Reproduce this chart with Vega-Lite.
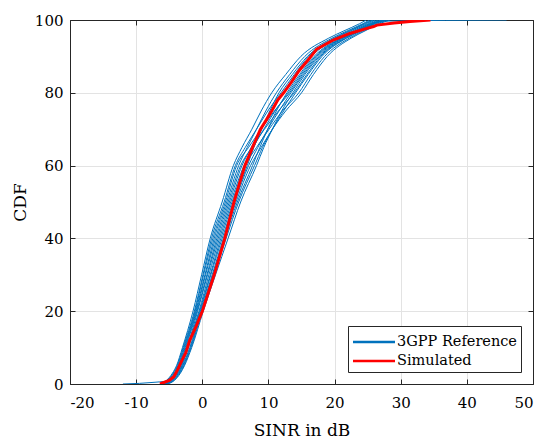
{
"$schema": "https://vega.github.io/schema/vega-lite/v6.json",
"width": 463, "height": 364,
"autosize": {"type": "none"},
"padding": {"left": 70, "top": 20, "right": 7, "bottom": 56},
"background": "white",
"config": {
  "view": {"stroke": "#262626", "strokeWidth": 1},
  "font": "DejaVu Serif",
  "axis": {"labelFont": "DejaVu Serif", "titleFont": "DejaVu Serif", "labelFontSize": 15, "labelColor": "#000", "titleFontSize": 17, "titleFontWeight": "normal", "titleColor": "#000", "domainColor": "#262626", "tickColor": "#262626", "gridColor": "#e3e3e3", "tickSize": -5},
  "legend": {"labelFont": "DejaVu Serif"}
},
"datasets": {
"ref": [
{"c":1,"x":-6.3,"y":0},{"c":1,"x":-5.4,"y":1},{"c":1,"x":-4.5,"y":3},{"c":1,"x":-3.9,"y":5},{"c":1,"x":-3.0,"y":10},{"c":1,"x":-1.4,"y":20},{"c":1,"x":-0.1,"y":30},{"c":1,"x":1.2,"y":40},{"c":1,"x":3.0,"y":50},{"c":1,"x":4.7,"y":60},{"c":1,"x":6.0,"y":65},{"c":1,"x":7.5,"y":70},{"c":1,"x":8.9,"y":75},{"c":1,"x":10.5,"y":80},{"c":1,"x":12.6,"y":85},{"c":1,"x":14.9,"y":90},{"c":1,"x":19.1,"y":95},{"c":1,"x":21.4,"y":97},{"c":1,"x":23.8,"y":99},{"c":1,"x":24.8,"y":100},
{"c":2,"x":-6.2,"y":0},{"c":2,"x":-5.3,"y":1},{"c":2,"x":-4.4,"y":3},{"c":2,"x":-3.8,"y":5},{"c":2,"x":-2.9,"y":10},{"c":2,"x":-1.2,"y":20},{"c":2,"x":0.1,"y":30},{"c":2,"x":1.4,"y":40},{"c":2,"x":3.3,"y":50},{"c":2,"x":5.0,"y":60},{"c":2,"x":6.5,"y":65},{"c":2,"x":8.2,"y":70},{"c":2,"x":9.9,"y":75},{"c":2,"x":11.9,"y":80},{"c":2,"x":13.9,"y":85},{"c":2,"x":16.1,"y":90},{"c":2,"x":20.1,"y":95},{"c":2,"x":22.4,"y":97},{"c":2,"x":24.7,"y":99},{"c":2,"x":25.9,"y":100},
{"c":3,"x":-6.1,"y":0},{"c":3,"x":-5.2,"y":1},{"c":3,"x":-4.3,"y":3},{"c":3,"x":-3.7,"y":5},{"c":3,"x":-2.8,"y":10},{"c":3,"x":-1.1,"y":20},{"c":3,"x":0.2,"y":30},{"c":3,"x":1.6,"y":40},{"c":3,"x":3.5,"y":50},{"c":3,"x":5.2,"y":60},{"c":3,"x":7.0,"y":65},{"c":3,"x":8.9,"y":70},{"c":3,"x":10.9,"y":75},{"c":3,"x":13.2,"y":80},{"c":3,"x":15.1,"y":85},{"c":3,"x":17.3,"y":90},{"c":3,"x":21.1,"y":95},{"c":3,"x":23.3,"y":97},{"c":3,"x":25.6,"y":99},{"c":3,"x":27.0,"y":100},
{"c":4,"x":-6.0,"y":0},{"c":4,"x":-5.1,"y":1},{"c":4,"x":-4.2,"y":3},{"c":4,"x":-3.6,"y":5},{"c":4,"x":-2.7,"y":10},{"c":4,"x":-1.0,"y":20},{"c":4,"x":0.4,"y":30},{"c":4,"x":1.8,"y":40},{"c":4,"x":3.7,"y":50},{"c":4,"x":5.5,"y":60},{"c":4,"x":6.8,"y":65},{"c":4,"x":8.2,"y":70},{"c":4,"x":9.6,"y":75},{"c":4,"x":11.2,"y":80},{"c":4,"x":13.2,"y":85},{"c":4,"x":15.5,"y":90},{"c":4,"x":19.6,"y":95},{"c":4,"x":21.9,"y":97},{"c":4,"x":24.3,"y":99},{"c":4,"x":25.3,"y":100},
{"c":5,"x":-6.0,"y":0},{"c":5,"x":-5.0,"y":1},{"c":5,"x":-4.1,"y":3},{"c":5,"x":-3.5,"y":5},{"c":5,"x":-2.6,"y":10},{"c":5,"x":-0.9,"y":20},{"c":5,"x":0.5,"y":30},{"c":5,"x":2.0,"y":40},{"c":5,"x":3.9,"y":50},{"c":5,"x":5.8,"y":60},{"c":5,"x":7.5,"y":65},{"c":5,"x":9.4,"y":70},{"c":5,"x":11.5,"y":75},{"c":5,"x":13.9,"y":80},{"c":5,"x":15.8,"y":85},{"c":5,"x":17.9,"y":90},{"c":5,"x":21.7,"y":95},{"c":5,"x":23.8,"y":97},{"c":5,"x":26.0,"y":99},{"c":5,"x":27.5,"y":100},
{"c":6,"x":-5.9,"y":0},{"c":6,"x":-4.9,"y":1},{"c":6,"x":-4.0,"y":3},{"c":6,"x":-3.4,"y":5},{"c":6,"x":-2.5,"y":10},{"c":6,"x":-0.8,"y":20},{"c":6,"x":0.7,"y":30},{"c":6,"x":2.2,"y":40},{"c":6,"x":4.1,"y":50},{"c":6,"x":6.0,"y":60},{"c":6,"x":7.4,"y":65},{"c":6,"x":8.9,"y":70},{"c":6,"x":10.5,"y":75},{"c":6,"x":12.3,"y":80},{"c":6,"x":14.3,"y":85},{"c":6,"x":16.5,"y":90},{"c":6,"x":20.5,"y":95},{"c":6,"x":22.7,"y":97},{"c":6,"x":25.0,"y":99},{"c":6,"x":26.2,"y":100},
{"c":7,"x":-5.8,"y":0},{"c":7,"x":-4.8,"y":1},{"c":7,"x":-3.9,"y":3},{"c":7,"x":-3.3,"y":5},{"c":7,"x":-2.3,"y":10},{"c":7,"x":-0.7,"y":20},{"c":7,"x":0.8,"y":30},{"c":7,"x":2.4,"y":40},{"c":7,"x":4.3,"y":50},{"c":7,"x":6.3,"y":60},{"c":7,"x":7.7,"y":65},{"c":7,"x":9.3,"y":70},{"c":7,"x":11.0,"y":75},{"c":7,"x":13.0,"y":80},{"c":7,"x":14.9,"y":85},{"c":7,"x":17.1,"y":90},{"c":7,"x":21.0,"y":95},{"c":7,"x":23.2,"y":97},{"c":7,"x":25.4,"y":99},{"c":7,"x":27.5,"y":99.7},{"c":7,"x":46.0,"y":100},
{"c":8,"x":-5.8,"y":0},{"c":8,"x":-4.8,"y":1},{"c":8,"x":-3.9,"y":3},{"c":8,"x":-3.3,"y":5},{"c":8,"x":-2.3,"y":10},{"c":8,"x":-0.5,"y":20},{"c":8,"x":1.0,"y":30},{"c":8,"x":2.6,"y":40},{"c":8,"x":4.5,"y":50},{"c":8,"x":6.5,"y":60},{"c":8,"x":8.2,"y":65},{"c":8,"x":10.1,"y":70},{"c":8,"x":12.1,"y":75},{"c":8,"x":14.6,"y":80},{"c":8,"x":16.4,"y":85},{"c":8,"x":18.5,"y":90},{"c":8,"x":22.2,"y":95},{"c":8,"x":24.3,"y":97},{"c":8,"x":26.5,"y":99},{"c":8,"x":28.0,"y":100},
{"c":9,"x":-12.0,"y":0},{"c":9,"x":-7.0,"y":0.5},{"c":9,"x":-4.7,"y":1},{"c":9,"x":-3.8,"y":3},{"c":9,"x":-3.2,"y":5},{"c":9,"x":-2.2,"y":10},{"c":9,"x":-0.4,"y":20},{"c":9,"x":1.2,"y":30},{"c":9,"x":2.8,"y":40},{"c":9,"x":4.7,"y":50},{"c":9,"x":6.8,"y":60},{"c":9,"x":7.8,"y":65},{"c":9,"x":9.0,"y":70},{"c":9,"x":10.2,"y":75},{"c":9,"x":11.6,"y":80},{"c":9,"x":13.6,"y":85},{"c":9,"x":15.9,"y":90},{"c":9,"x":19.9,"y":95},{"c":9,"x":22.2,"y":97},{"c":9,"x":24.5,"y":99},{"c":9,"x":25.7,"y":100},
{"c":10,"x":-5.6,"y":0},{"c":10,"x":-4.6,"y":1},{"c":10,"x":-3.7,"y":3},{"c":10,"x":-3.1,"y":5},{"c":10,"x":-2.1,"y":10},{"c":10,"x":-0.3,"y":20},{"c":10,"x":1.3,"y":30},{"c":10,"x":3.0,"y":40},{"c":10,"x":4.9,"y":50},{"c":10,"x":7.0,"y":60},{"c":10,"x":8.4,"y":65},{"c":10,"x":9.9,"y":70},{"c":10,"x":11.6,"y":75},{"c":10,"x":13.4,"y":80},{"c":10,"x":15.3,"y":85},{"c":10,"x":17.5,"y":90},{"c":10,"x":21.3,"y":95},{"c":10,"x":23.5,"y":97},{"c":10,"x":25.8,"y":99},{"c":10,"x":27.1,"y":100},
{"c":11,"x":-5.5,"y":0},{"c":11,"x":-4.5,"y":1},{"c":11,"x":-3.6,"y":3},{"c":11,"x":-3.0,"y":5},{"c":11,"x":-1.9,"y":10},{"c":11,"x":-0.2,"y":20},{"c":11,"x":1.5,"y":30},{"c":11,"x":3.2,"y":40},{"c":11,"x":5.1,"y":50},{"c":11,"x":7.3,"y":60},{"c":11,"x":8.9,"y":65},{"c":11,"x":10.6,"y":70},{"c":11,"x":12.6,"y":75},{"c":11,"x":15.0,"y":80},{"c":11,"x":16.8,"y":85},{"c":11,"x":18.9,"y":90},{"c":11,"x":22.5,"y":95},{"c":11,"x":24.6,"y":97},{"c":11,"x":26.8,"y":99},{"c":11,"x":28.4,"y":100},
{"c":12,"x":-5.5,"y":0},{"c":12,"x":-4.4,"y":1},{"c":12,"x":-3.5,"y":3},{"c":12,"x":-2.9,"y":5},{"c":12,"x":-1.8,"y":10},{"c":12,"x":-0.1,"y":20},{"c":12,"x":1.6,"y":30},{"c":12,"x":3.4,"y":40},{"c":12,"x":5.3,"y":50},{"c":12,"x":7.6,"y":60},{"c":12,"x":8.7,"y":65},{"c":12,"x":9.9,"y":70},{"c":12,"x":11.2,"y":75},{"c":12,"x":12.8,"y":80},{"c":12,"x":14.7,"y":85},{"c":12,"x":16.9,"y":90},{"c":12,"x":20.8,"y":95},{"c":12,"x":23.0,"y":97},{"c":12,"x":25.3,"y":99},{"c":12,"x":26.6,"y":100},
{"c":13,"x":-5.4,"y":0},{"c":13,"x":-4.3,"y":1},{"c":13,"x":-3.4,"y":3},{"c":13,"x":-2.8,"y":5},{"c":13,"x":-1.7,"y":10},{"c":13,"x":0.0,"y":20},{"c":13,"x":1.8,"y":30},{"c":13,"x":3.6,"y":40},{"c":13,"x":5.5,"y":50},{"c":13,"x":7.9,"y":60},{"c":13,"x":9.1,"y":65},{"c":13,"x":10.6,"y":70},{"c":13,"x":12.3,"y":75},{"c":13,"x":14.1,"y":80},{"c":13,"x":16.0,"y":85},{"c":13,"x":18.1,"y":90},{"c":13,"x":21.8,"y":95},{"c":13,"x":24.0,"y":97},{"c":13,"x":26.2,"y":99},{"c":13,"x":27.7,"y":100},
{"c":14,"x":-5.3,"y":0},{"c":14,"x":-4.2,"y":1},{"c":14,"x":-3.3,"y":3},{"c":14,"x":-2.7,"y":5},{"c":14,"x":-1.6,"y":10},{"c":14,"x":0.15,"y":20},{"c":14,"x":2.0,"y":30},{"c":14,"x":3.9,"y":40},{"c":14,"x":5.8,"y":50},{"c":14,"x":8.2,"y":60},{"c":14,"x":9.3,"y":65},{"c":14,"x":10.6,"y":70},{"c":14,"x":12.0,"y":75},{"c":14,"x":13.7,"y":80},{"c":14,"x":15.5,"y":85},{"c":14,"x":17.7,"y":90},{"c":14,"x":21.5,"y":95},{"c":14,"x":23.6,"y":97},{"c":14,"x":25.9,"y":99},{"c":14,"x":27.3,"y":100}
],
"sim": [
{"x":-6.4,"y":0},{"x":-5.0,"y":1},{"x":-4.3,"y":2},{"x":-3.7,"y":4},{"x":-3.2,"y":6},{"x":-2.5,"y":8.6},{"x":-1.9,"y":12},{"x":-0.9,"y":16},{"x":0.0,"y":20},{"x":0.9,"y":25},{"x":1.8,"y":30},{"x":2.6,"y":35},{"x":3.4,"y":40},{"x":4.1,"y":45},{"x":4.8,"y":50},{"x":5.6,"y":55},{"x":6.45,"y":60},{"x":7.6,"y":65},{"x":8.8,"y":70},{"x":9.5,"y":72},{"x":10.5,"y":75},{"x":11.4,"y":78},{"x":12.3,"y":80},{"x":13.5,"y":83},{"x":14.6,"y":86},{"x":16.0,"y":89},{"x":17.3,"y":92},{"x":19.8,"y":94.5},{"x":22.3,"y":96.3},{"x":24.5,"y":97.5},{"x":25.9,"y":98.2},{"x":26.4,"y":98.6},{"x":29.0,"y":99.2},{"x":31.4,"y":99.6},{"x":34.5,"y":100}
]
},
"layer": [
{
 "data": {"name": "ref"},
 "mark": {"type": "line", "strokeWidth": 1, "clip": true, "interpolate": "monotone"},
 "encoding": {
  "x": {"field": "x", "type": "quantitative", "scale": {"domain": [-20, 50], "nice": false}, "axis": {"values": [-20,-10,0,10,20,30,40,50], "labelExpr": "replace(datum.label, '\u2212', '-')", "title": "SINR in dB", "labelPadding": 16, "titlePadding": 12}},
  "y": {"field": "y", "type": "quantitative", "scale": {"domain": [0, 100], "nice": false}, "axis": {"values": [0,20,40,60,80,100], "title": "CDF", "labelPadding": 12, "titlePadding": 5}},
  "detail": {"field": "c", "type": "nominal"},
  "color": {"datum": "3GPP Reference", "type": "nominal", "scale": {"domain": ["3GPP Reference", "Simulated"], "range": ["#0072BD", "#FF0000"]},
   "legend": {"title": null, "orient": "none", "legendX": 278, "legendY": 306, "symbolType": "M-2,0H2", "symbolSize": 441, "symbolStrokeWidth": 2.5, "symbolOffset": 10, "labelFont": "DejaVu Serif", "labelFontSize": 14.5, "labelColor": "#000", "strokeColor": "#262626", "fillColor": "white", "padding": 4, "rowPadding": 0, "labelOffset": 11}}
 }
},
{
 "data": {"name": "sim"},
 "mark": {"type": "line", "strokeWidth": 3, "clip": true},
 "encoding": {
  "x": {"field": "x", "type": "quantitative", "axis": null},
  "y": {"field": "y", "type": "quantitative", "axis": null},
  "color": {"datum": "Simulated", "type": "nominal"}
 }
},
{
 "data": {"name": "sim"},
 "mark": {"type": "line", "opacity": 0},
 "encoding": {
  "x": {"field": "x", "type": "quantitative", "axis": {"orient": "top", "values": [-20,-10,0,10,20,30,40,50], "labels": false, "title": null, "grid": false}},
  "y": {"field": "y", "type": "quantitative", "axis": {"orient": "right", "values": [0,20,40,60,80,100], "labels": false, "title": null, "grid": false}}
 }
}
],
"resolve": {"axis": {"x": "independent", "y": "independent"}}
}
